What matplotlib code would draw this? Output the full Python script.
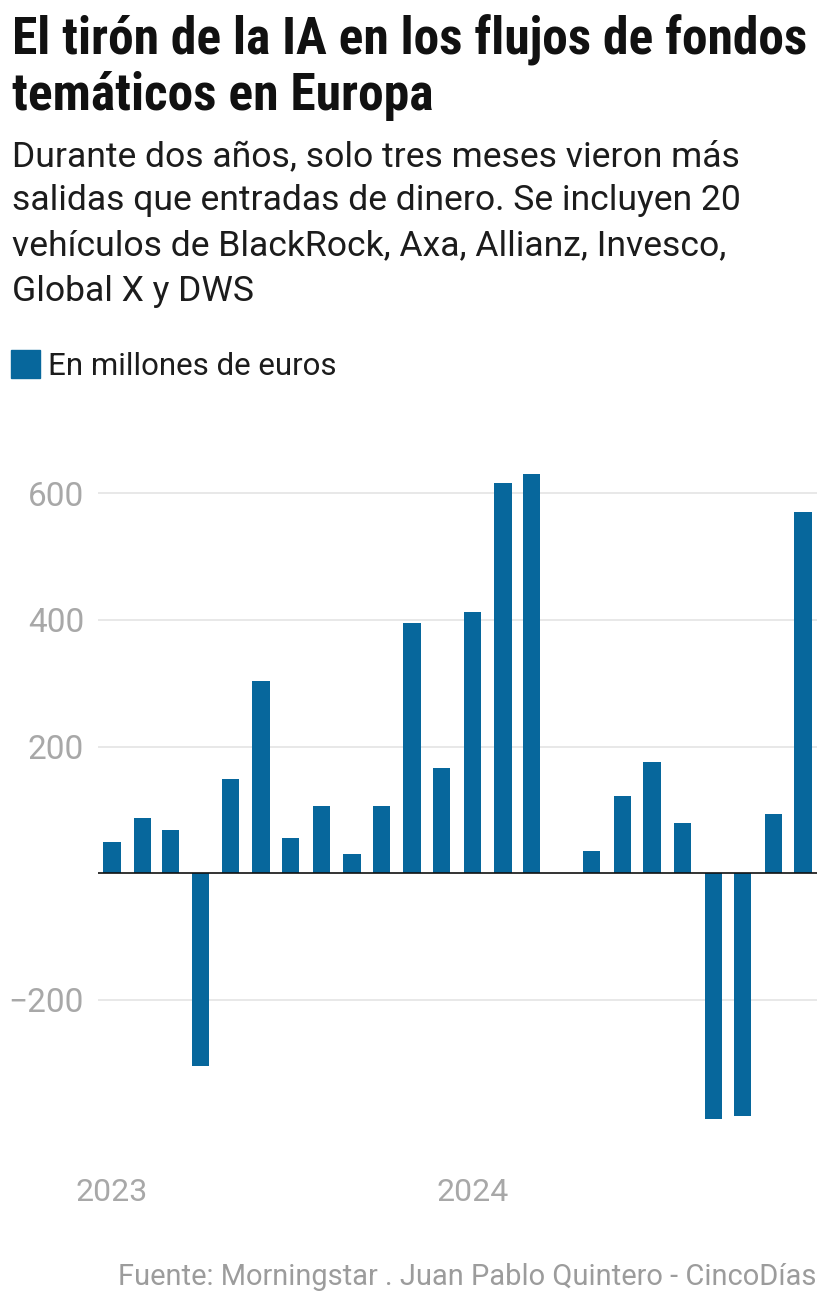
import matplotlib
matplotlib.use("Agg")
import matplotlib.pyplot as plt
import matplotlib.dates as mdates
from matplotlib import font_manager
from matplotlib.patches import Rectangle
import datetime as dt

# ---------------- data ----------------
months = ["2023-01", "2023-02", "2023-03", "2023-04", "2023-05", "2023-06",
          "2023-07", "2023-08", "2023-09", "2023-10", "2023-11", "2023-12",
          "2024-01", "2024-02", "2024-03", "2024-04", "2024-05", "2024-06",
          "2024-07", "2024-08", "2024-09", "2024-10", "2024-11", "2024-12"]
flows = [50, 88, 69, -305, 149, 304, 55, 106, 30, 106, 395, 166,
         412, 617, 631, 0, 36, 122, 175, 79, -388, -384, 93, 570]
year_ticks = ["2023-01", "2024-01"]
year_labels = ["2023", "2024"]
y_ticks = [-200, 200, 400, 600]
y_tick_labels = ["\u2212200", "200", "400", "600"]

title_lines = ["El tirón de la IA en los flujos de fondos",
               "temáticos en Europa"]
subtitle_lines = ["Durante dos años, solo tres meses vieron más",
                  "salidas que entradas de dinero. Se incluyen 20",
                  "vehículos de BlackRock, Axa, Allianz, Invesco,",
                  "Global X y DWS"]
legend_label = "En millones de euros"
footer = "Fuente: Morningstar . Juan Pablo Quintero - CincoDías"

# ---------------- style ----------------
BLUE = "#07679c"
GRID = "#e6e6e6"
GRAY = "#a8a8a8"
DARK = "#1c1c1c"

names = {f.name for f in font_manager.fontManager.ttflist}
REG = "Roboto" if "Roboto" in names else "DejaVu Sans"
if "Roboto Condensed" in names:
    COND = "Roboto Condensed"
elif "Liberation Sans Narrow" in names:
    COND = "Liberation Sans Narrow"
else:
    COND = REG

W, H = 828, 1308
fig = plt.figure(figsize=(W / 100, H / 100), dpi=100)
fig.patch.set_facecolor("white")

def fy(px):
    return 1 - px / H

def fx(px):
    return px / W

renderer = fig.canvas.get_renderer()

def width_of(t):
    return t.get_window_extent(renderer).width

def fitted_size(strings, family, weight, targets, size0=20):
    scales = []
    for s, tw in zip(strings, targets):
        t = fig.text(0, 0, s, fontsize=size0, family=family, weight=weight)
        scales.append(tw / width_of(t))
        t.remove()
    return size0 * sum(scales) / len(scales)

# ---------------- axes ----------------
dates = [mdates.date2num(dt.datetime.strptime(m, "%Y-%m")) for m in months]
ymin, ymax = -430, 660
zero_px = 873.3
ppu = 0.6333
top_px = zero_px - ppu * ymax
bot_px = zero_px - ppu * ymin
ax_left, ax_right = 98, 817
ax = fig.add_axes([fx(ax_left), fy(bot_px), (ax_right - ax_left) / W,
                   (bot_px - top_px) / H])
ax.set_facecolor("white")

ax.bar(dates, flows, width=17.5, color=BLUE, zorder=2)
ax.axhline(0, color="#111111", lw=1.2, zorder=3)

ax.set_xlim(dates[0] - 14.2, dates[-1] + 14.2)
ax.set_ylim(ymin, ymax)

ax.set_yticks(y_ticks)
ax.set_yticklabels(y_tick_labels)
ax.yaxis.grid(True, color=GRID, lw=1.3, zorder=0)
ax.set_axisbelow(True)

xt = [mdates.date2num(dt.datetime.strptime(m, "%Y-%m")) for m in year_ticks]
ax.set_xticks(xt)
ax.set_xticklabels(year_labels)

for sp in ax.spines.values():
    sp.set_visible(False)
ax.tick_params(axis="both", length=0, colors=GRAY)
ax.tick_params(axis="y", pad=10, labelsize=24)
ax.tick_params(axis="x", pad=23, labelsize=23)
for lab in ax.get_xticklabels() + ax.get_yticklabels():
    lab.set_family(REG)
    lab.set_color(GRAY)

# ---------------- texts ----------------
ts = fitted_size([title_lines[0]], COND, "bold", [796], 30)
fig.text(fx(12), fy(55), title_lines[0], fontsize=ts, family=COND,
         weight="bold", color="#111111", va="baseline", ha="left")
fig.text(fx(12), fy(110), title_lines[1], fontsize=ts, family=COND,
         weight="bold", color="#111111", va="baseline", ha="left")

ss = fitted_size(subtitle_lines[:3], REG, "normal", [721, 728, 715], 20)
for s, b in zip(subtitle_lines, [166, 210, 255, 301]):
    fig.text(fx(12), fy(b), s, fontsize=ss, family=REG, color=DARK,
             va="baseline", ha="left")

fig.patches.append(Rectangle((fx(11), fy(378)), 29 / W, 28 / H,
                             transform=fig.transFigure, color=BLUE,
                             figure=fig))
ls = fitted_size([legend_label], REG, "normal", [288], 20)
fig.text(fx(48), fy(375), legend_label, fontsize=ls, family=REG, color=DARK,
         va="baseline", ha="left")

fs = fitted_size([footer], REG, "normal", [698], 18)
fig.text(fx(816), fy(1285), footer, fontsize=fs, family=REG, color="#9c9c9c",
         va="baseline", ha="right")

fig.savefig("out.png", dpi=100, facecolor="white")
